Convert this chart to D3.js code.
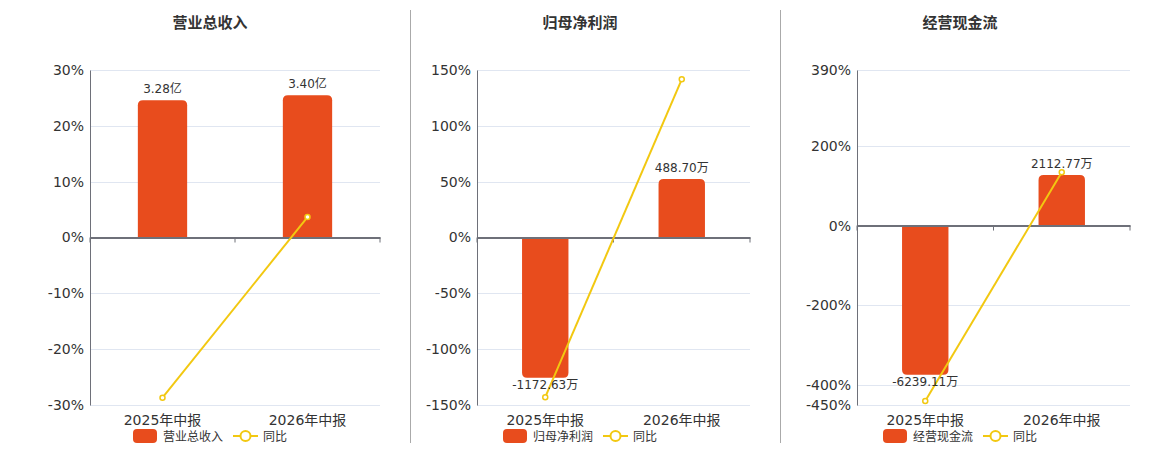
<!DOCTYPE html>
<html><head><meta charset="utf-8">
<script src="https://cdn.jsdelivr.net/npm/d3@7/dist/d3.min.js"></script>
<style>
body{margin:0;background:#fff;}
text{font-family:"DejaVu Sans","Noto Sans CJK SC",sans-serif;}
</style></head>
<body><svg id="c" width="1160" height="450"></svg>
<script>
const categories = ["2025年中报", "2026年中报"];
const titles = ["营业总收入", "归母净利润", "经营现金流"];
const barValues1 = [3.28, 3.40];
const barValues2 = [-1172.63, 488.70];
const barValues3 = [-6239.11, 2112.77];
const barLabels1 = ["3.28亿", "3.40亿"];
const barLabels2 = ["-1172.63万", "488.70万"];
const barLabels3 = ["-6239.11万", "2112.77万"];
const yoy1 = [-28.7, 3.66];
const yoy2 = [-143, 141.68];
const yoy3 = [-440, 133.86];
const yTicks1 = [30, 20, 10, 0, -10, -20, -30];
const yTicks2 = [150, 100, 50, 0, -50, -100, -150];
const yTicks3 = [390, 200, 0, -200, -400, -450];
const barDomain1 = [-4, 4];
const barDomain2 = [-1400, 1400];
const barDomain3 = [-7500, 6500];
const legendName = ["营业总收入", "归母净利润", "经营现金流"];
const lineName = "同比";

const BAR = "#E84C1D", LINE = "#F2C811", TXT = "#333";
const svg = d3.select("#c");

const panels = [
  {left: 90, right: 380, title: 210, legend: 133, bars: barValues1, labels: barLabels1, yoy: yoy1, ticks: yTicks1, bd: barDomain1, name: legendName[0], t: titles[0]},
  {left: 477, right: 750, title: 580, legend: 503, bars: barValues2, labels: barLabels2, yoy: yoy2, ticks: yTicks2, bd: barDomain2, name: legendName[1], t: titles[1]},
  {left: 857, right: 1130, title: 960, legend: 883, bars: barValues3, labels: barLabels3, yoy: yoy3, ticks: yTicks3, bd: barDomain3, name: legendName[2], t: titles[2]}
];
const plotTop = 70, plotBottom = 405;

// separators
[410, 780].forEach(x => svg.append("line").attr("x1", x + 0.5).attr("x2", x + 0.5).attr("y1", 10).attr("y2", 443)
  .attr("stroke", "#aaa").attr("stroke-width", 1));

function barPath(x, w, y0, y1, r) {
  const up = y1 < y0;
  const h = Math.abs(y1 - y0);
  r = Math.min(r, h / 2, w / 2);
  if (up) {
    return `M${x},${y0}V${y1 + r}Q${x},${y1} ${x + r},${y1}H${x + w - r}Q${x + w},${y1} ${x + w},${y1 + r}V${y0}Z`;
  } else {
    return `M${x},${y0}V${y1 - r}Q${x},${y1} ${x + r},${y1}H${x + w - r}Q${x + w},${y1} ${x + w},${y1 - r}V${y0}Z`;
  }
}

panels.forEach(p => {
  const g = svg.append("g");
  const yMax = d3.max(p.ticks), yMin = d3.min(p.ticks);
  const y = d3.scaleLinear().domain([yMin, yMax]).range([plotBottom, plotTop]);
  const yb = d3.scaleLinear().domain(p.bd).range([plotBottom, plotTop]);
  const x = d3.scaleBand().domain(categories).range([p.left, p.right]);
  const z = y(0);

  g.append("text").attr("x", p.title).attr("y", 28).attr("text-anchor", "middle")
    .attr("font-size", 15).attr("font-weight", "bold").attr("fill", TXT).text(p.t);

  g.selectAll(".grid").data(p.ticks.filter(t => t !== 0)).join("line")
    .attr("x1", p.left).attr("x2", p.right)
    .attr("y1", d => Math.round(y(d)) + 0.5).attr("y2", d => Math.round(y(d)) + 0.5)
    .attr("stroke", "#E0E6F1").attr("stroke-width", 1);

  const ya = g.append("g").attr("transform", `translate(${p.left},0)`)
    .call(d3.axisLeft(y).tickValues(p.ticks).tickSize(0).tickPadding(6).tickFormat(d => d + "%"));
  ya.select(".domain").attr("stroke", "#6E7079");
  ya.selectAll("text").attr("font-size", 14).attr("fill", TXT)
    .attr("font-family", '"DejaVu Sans",sans-serif');

  g.selectAll(".bar").data(p.bars).join("path")
    .attr("d", (d, i) => {
      const w = x.bandwidth() * 0.34;
      const bx = x(categories[i]) + (x.bandwidth() - w) / 2;
      return barPath(bx, w, yb(0), yb(d), 5);
    })
    .attr("fill", BAR);

  const xa = g.append("g").attr("transform", `translate(0,${z})`)
    .call(d3.axisBottom(x).tickSize(0).tickFormat(""));
  xa.select(".domain").attr("stroke", "#6E7079").attr("stroke-width", 2);
  [p.left, (p.left + p.right) / 2, p.right].forEach(tx =>
    g.append("line").attr("x1", tx).attr("x2", tx).attr("y1", z).attr("y2", z + 5)
      .attr("stroke", "#6E7079").attr("stroke-width", 1));

  g.selectAll(".cat").data(categories).join("text")
    .attr("x", d => x(d) + x.bandwidth() / 2).attr("y", 425)
    .attr("text-anchor", "middle").attr("font-size", 14).attr("fill", TXT).text(d => d);

  const pts = p.yoy.map((v, i) => [x(categories[i]) + x.bandwidth() / 2, y(v)]);
  g.append("path").attr("d", d3.line()(pts)).attr("fill", "none")
    .attr("stroke", LINE).attr("stroke-width", 2);
  g.selectAll(".pt").data(pts).join("circle")
    .attr("cx", d => d[0]).attr("cy", d => d[1]).attr("r", 2.5)
    .attr("fill", "#fff").attr("stroke", LINE).attr("stroke-width", 1.5);

  g.selectAll(".lbl").data(p.bars).join("text")
    .attr("x", (d, i) => x(categories[i]) + x.bandwidth() / 2)
    .attr("y", d => d >= 0 ? yb(d) - 7 : yb(d) + 11)
    .attr("text-anchor", "middle").attr("font-size", 12).attr("fill", TXT)
    .text((d, i) => p.labels[i]);

  const lg = g.append("g").attr("transform", `translate(${p.legend},0)`);
  lg.append("rect").attr("x", 0).attr("y", 429).attr("width", 24).attr("height", 14).attr("rx", 4).attr("fill", BAR);
  lg.append("text").attr("x", 30).attr("y", 440.5).attr("font-size", 12).attr("fill", TXT).text(p.name);
  const lx = 100;
  lg.append("line").attr("x1", lx).attr("x2", lx + 25).attr("y1", 436).attr("y2", 436)
    .attr("stroke", LINE).attr("stroke-width", 2);
  lg.append("circle").attr("cx", lx + 12.5).attr("cy", 436).attr("r", 5)
    .attr("fill", "#fff").attr("stroke", LINE).attr("stroke-width", 2);
  lg.append("text").attr("x", lx + 30).attr("y", 440.5).attr("font-size", 12).attr("fill", TXT).text(lineName);
});
</script></body></html>
